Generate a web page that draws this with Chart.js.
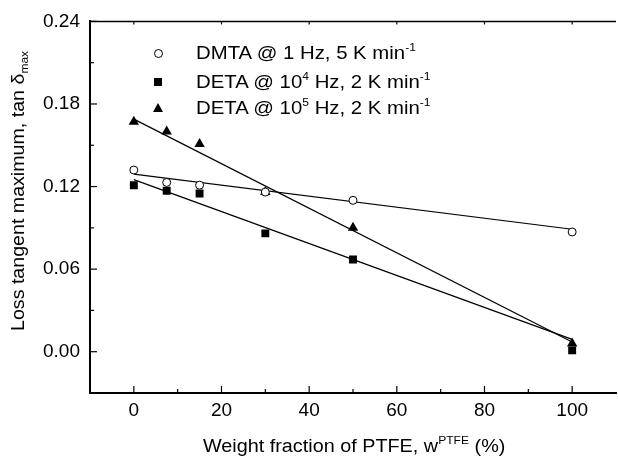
<!DOCTYPE html>
<html>
<head>
<meta charset="utf-8">
<script src="https://cdn.jsdelivr.net/npm/chart.js@4.4.0/dist/chart.umd.min.js"></script>
<style>
  html, body { margin: 0; padding: 0; overflow: hidden; background: #fff; }
  #wrap { position: relative; width: 622px; height: 459px; }
  .txt {
    position: absolute;
    font-family: "Liberation Sans", Arial, sans-serif;
    color: #000;
    white-space: nowrap;
  }
  .sup { font-size: 11px; position: relative; top: -8px; }
  .sub { font-size: 11px; position: relative; top: 4px; }
  .leg { font-size: 18.5px; line-height: 20px; left: 196px; transform: scaleX(1.1); transform-origin: 0 50%; }
  .mk { position: absolute; box-sizing: border-box; }
  .mk.circle { width: 9px; height: 9px; border: 1px solid #000; border-radius: 50%; background: #fff; }
  .mk.square { width: 8px; height: 8px; background: #000; }
  .mk.tri { width: 0; height: 0; border-left: 5px solid transparent; border-right: 5px solid transparent; border-bottom: 9px solid #000; }
</style>
</head>
<body>
<div id="wrap">
  <canvas id="lossChart" width="622" height="459"></canvas>

  <!-- legend -->
  <div class="mk circle" style="left:153.5px; top:48.5px;"></div>
  <div class="txt leg" style="top:43px;">DMTA @ 1 Hz, 5 K min<span class="sup">-1</span></div>
  <div class="mk square" style="left:154px; top:77.5px;"></div>
  <div class="txt leg" style="top:71.5px;">DETA @ 10<span class="sup">4</span> Hz, 2 K min<span class="sup">-1</span></div>
  <div class="mk tri" style="left:153px; top:103px;"></div>
  <div class="txt leg" style="top:98px;">DETA @ 10<span class="sup">5</span> Hz, 2 K min<span class="sup">-1</span></div>

  <!-- axis titles -->
  <div class="txt" style="left:203px; top:434.5px; font-size:18px; line-height:22px; transform:scaleX(1.1); transform-origin:0 50%;">Weight fraction of PTFE, w<span class="sup">PTFE</span> (%)</div>
  <div class="txt" style="left:18.75px; top:190.5px; font-size:18px; line-height:22px; transform:translate(-50%,-50%) rotate(-90deg) scaleX(1.09);">Loss tangent maximum, tan &delta;<span class="sub">max</span></div>
</div>

<script>
/*==== data ====*/
const wPTFE = [0, 7.5, 15, 30, 50, 100];
const tanDMTA = [0.132, 0.123, 0.121, 0.116, 0.110, 0.087];
const tanDETA4 = [0.121, 0.117, 0.115, 0.086, 0.067, 0.001];
const tanDETA5 = [0.167, 0.160, 0.151, 0.116, 0.090, 0.006];

// linear fits, end points at 0 and 100 %
const fitX = [0, 100];
const fitDMTA = [0.129, 0.089];
const fitDETA4 = [0.125, 0.009];
const fitDETA5 = [0.169, 0.007];

const xTicks = [0, 20, 40, 60, 80, 100];
const xMinor = [10, 30, 50, 70, 90];
const yTicks = [0, 0.06, 0.12, 0.18, 0.24];
const yMinor = [0.03, 0.09, 0.15, 0.21];

function toPoints(xs, ys) {
    return xs.map(function (x, i) {
        return { x: x, y: ys[i] };
    });
}

Chart.defaults.font.family = '"Liberation Sans", Arial, sans-serif';
Chart.defaults.font.size = 19;
Chart.defaults.color = '#000';

/*==== inward ticks + top frame line ====*/
const frameTicks = {
    id: 'frameTicks',
    afterDraw: function (chart) {
        const ctx = chart.ctx, a = chart.chartArea;
        const sx = chart.scales.x, sy = chart.scales.y;
        function seg(x1, y1, x2, y2) {
            ctx.beginPath();
            ctx.moveTo(x1, y1);
            ctx.lineTo(x2, y2);
            ctx.stroke();
        }
        ctx.save();
        ctx.strokeStyle = '#000';
        ctx.lineWidth = 1.5;
        seg(a.left, a.top, a.right, a.top);
        ctx.lineWidth = 1.2;
        xTicks.forEach(function (v) {
            const p = sx.getPixelForValue(v);
            seg(p, a.bottom, p, a.bottom - 7);
            seg(p, a.top, p, a.top + 3);
        });
        xMinor.forEach(function (v) {
            const p = sx.getPixelForValue(v);
            seg(p, a.bottom, p, a.bottom - 4);
        });
        yTicks.forEach(function (v) {
            const p = sy.getPixelForValue(v);
            seg(a.left, p, a.left + 7, p);
        });
        yMinor.forEach(function (v) {
            const p = sy.getPixelForValue(v);
            seg(a.left, p, a.left + 4, p);
        });
        ctx.restore();
    }
};

/*==== datasets ====*/
const markerSets = [
    {
        label: 'DMTA @ 1 Hz, 5 K min-1',
        data: toPoints(wPTFE, tanDMTA),
        pointStyle: 'circle',
        pointRadius: 4,
        pointBackgroundColor: '#fff',
        pointBorderColor: '#000',
        pointBorderWidth: 1
    },
    {
        label: 'DETA @ 10^4 Hz, 2 K min-1',
        data: toPoints(wPTFE, tanDETA4),
        pointStyle: 'rect',
        pointRadius: 5.6,
        pointBackgroundColor: '#000',
        pointBorderColor: '#000',
        pointBorderWidth: 0
    },
    {
        label: 'DETA @ 10^5 Hz, 2 K min-1',
        data: toPoints(wPTFE, tanDETA5),
        pointStyle: 'triangle',
        pointRadius: 6,
        pointBackgroundColor: '#000',
        pointBorderColor: '#000',
        pointBorderWidth: 0
    }
];

const fitSets = [fitDMTA, fitDETA4, fitDETA5].map(function (ys) {
    return {
        data: toPoints(fitX, ys),
        showLine: true,
        pointRadius: 0,
        borderColor: '#000',
        borderWidth: 1.2,
        fill: false
    };
});

/*=== config ====*/
const config_loss_chart = {
    type: 'scatter',
    data: { datasets: markerSets.concat(fitSets) },
    options: {
        responsive: false,
        animation: false,
        devicePixelRatio: 1,
        layout: { padding: { top: 18, right: 2, left: 0, bottom: 0 } },
        plugins: {
            legend: { display: false },
            tooltip: { enabled: false }
        },
        scales: {
            x: {
                type: 'linear',
                min: -10,
                max: 110,
                afterBuildTicks: function (s) {
                    s.ticks = xTicks.map(function (v) { return { value: v }; });
                },
                afterFit: function (s) { s.height = 66; },
                grid: { display: true, drawOnChartArea: false, drawTicks: false },
                border: { display: true, color: '#000', width: 2 },
                ticks: { padding: 6, maxRotation: 0 }
            },
            y: {
                type: 'linear',
                min: -0.03,
                max: 0.24,
                afterBuildTicks: function (s) {
                    s.ticks = yTicks.map(function (v) { return { value: v }; });
                },
                afterFit: function (s) { s.width = 90; },
                grid: { display: true, drawOnChartArea: false, drawTicks: false },
                border: { display: true, color: '#000', width: 2 },
                ticks: {
                    padding: 10,
                    callback: function (v) { return v.toFixed(2); }
                }
            }
        }
    },
    plugins: [frameTicks]
};

/*===== render =====*/
var lossChart = new Chart(document.getElementById('lossChart'), config_loss_chart);
</script>
</body>
</html>
